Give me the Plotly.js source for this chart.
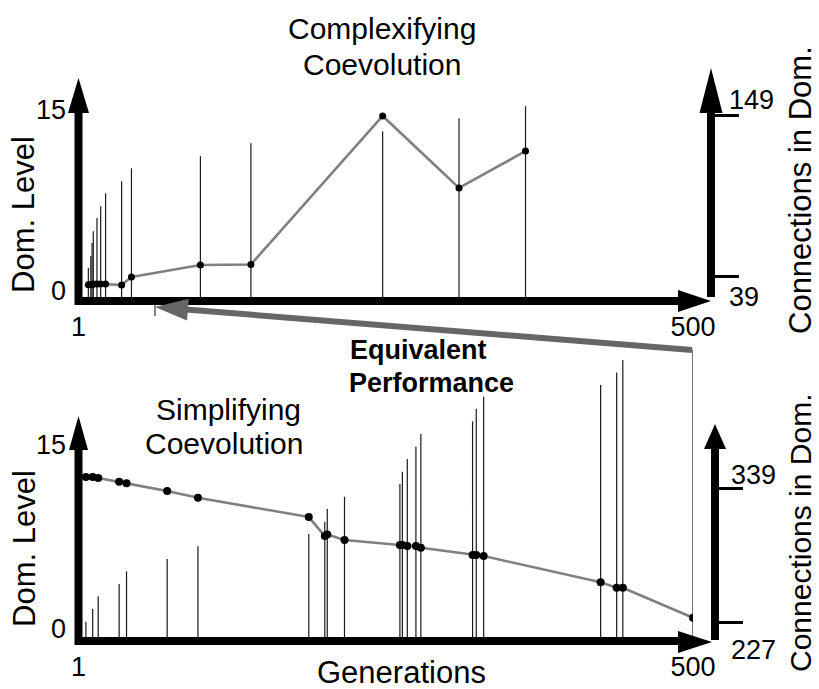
<!DOCTYPE html>
<html>
<head>
<meta charset="utf-8">
<script src="https://cdn.plot.ly/plotly-3.0.1.min.js"></script>
<style>html,body{margin:0;padding:0;background:#fff;}#chart{width:819px;height:689px;}</style>
</head>
<body>
<div id="chart"></div>
<script>
// ---------- DATA ----------
// Complexifying coevolution (top panel)
const topGenerations = [9, 11, 12, 13, 16, 19, 23, 36, 44, 100, 141, 248, 310, 364];
const topDomLevel    = [1.0, 1.0, 1.0, 1.05, 1.05, 1.05, 1.05, 0.98, 1.63, 2.61, 2.65, 14.76, 8.89, 11.9];
const topConnections = [44.9, 53.1, 61.9, 70.0, 78.9, 87.0, 95.8, 104.0, 112.8, 121.0, 129.8, 137.9, 146.8, 154.9];

// Simplifying coevolution (bottom panel)
const botGenerations = [7, 12.5, 17, 34, 40, 73, 98, 188, 201, 203, 217, 262, 264, 268, 275, 279, 321, 324, 330, 425, 438, 443, 500];
const botDomLevel    = [12.63, 12.63, 12.55, 12.26, 12.13, 11.52, 10.99, 9.47, 7.97, 8.09, 7.66, 7.26, 7.26, 7.18, 7.18, 7.05, 6.47, 6.47, 6.39, 4.32, 3.89, 3.89, 1.52];
const botConnections = [227.5, 238.1, 248.7, 259.0, 269.6, 279.9, 290.5, 300.8, 311.1, 321.7, 332.0, 342.6, 352.9, 363.5, 373.8, 384.4, 395.0, 405.5, 415.6, 425.4, 435.7, 446.3, 455];

// Tick labels
const genTickVals = [1, 500];
const genTickText = ['1', '500'];
const levelTickVals = [0, 15];
const levelTickText = ['0', '15'];
const topConnTickVals = [39, 149];
const topConnTickText = ['39', '149'];
const botConnTickVals = [227, 339];
const botConnTickText = ['227', '339'];

// ---------- GEOMETRY (pixels) ----------
const W = 819, H = 689;
const FONT = 'Liberation Sans, Arial, Helvetica, sans-serif';
const fx = x => x / W;
const fy = y => 1 - y / H;

const X_GEN1 = 78.5, X_GEN500 = 693;
// top panel
const T_BOT = 297, T_TOP = 64, T_L15 = 113;
const T_C39 = 276.7, T_C149 = 115;
// bottom panel
const B_BOT = 637, B_TOP = 345, B_L15 = 447;
const B_C227 = 622.3, B_C339 = 488.3;

function linRange(pxBot, pxTop, v1, p1, v2, p2) {
  const k = (v2 - v1) / (p1 - p2); // units per px (upwards)
  return [v1 - (pxBot - p1) * k, v1 + (p1 - pxTop) * k];
}
const topLevelRange = linRange(T_BOT, T_TOP, 0, T_BOT, 15, T_L15);
const topConnRange  = linRange(T_BOT, T_TOP, 39, T_C39, 149, T_C149);
const botLevelRange = linRange(B_BOT, B_TOP, 0, B_BOT, 15, B_L15);
const botConnRange  = linRange(B_BOT, B_TOP, 227, B_C227, 339, B_C339);

function stems(xs, ys, base) {
  const X = [], Y = [];
  xs.forEach((x, i) => { X.push(x, x, null); Y.push(base, ys[i], null); });
  return {X, Y};
}
const topStems = stems(topGenerations, topConnections, topConnRange[0]);
const botStems = stems(botGenerations, botConnections, botConnRange[0]);

const stemLine = {color: '#1a1a1a', width: 1.2};
const levelLine = {color: '#808080', width: 2.6};

const traces = [
  {x: topStems.X, y: topStems.Y, xaxis: 'x', yaxis: 'y', mode: 'lines', line: stemLine, hoverinfo: 'skip', showlegend: false},
  {x: topGenerations, y: topDomLevel, xaxis: 'x', yaxis: 'y2', mode: 'lines+markers', line: levelLine,
   marker: {color: '#000', size: 7}, showlegend: false},
  {x: botStems.X, y: botStems.Y, xaxis: 'x2', yaxis: 'y3', mode: 'lines', line: stemLine, hoverinfo: 'skip', showlegend: false},
  {x: botGenerations, y: botDomLevel, xaxis: 'x2', yaxis: 'y4', mode: 'lines+markers', line: levelLine,
   marker: {color: '#000', size: 8}, showlegend: false}
];

const tickFont = {family: FONT, size: 27, color: '#000'};
const xCommon = {
  domain: [fx(X_GEN1), fx(X_GEN500)], range: [1, 500], showgrid: false, zeroline: false, showline: false,
  ticks: '', tickvals: genTickVals, ticktext: genTickText, tickfont: tickFont, ticklabelstandoff: 11
};
const levelCommon = {
  side: 'left', showgrid: false, zeroline: false, showline: false, ticks: '',
  tickvals: levelTickVals, showticklabels: false
};
const connCommon = {
  side: 'right', anchor: 'free', showgrid: false, zeroline: false, showline: false,
  ticks: 'outside', ticklen: 27, tickwidth: 3, tickcolor: '#000', showticklabels: false
};

// decorative axes with arrowheads
const shapes = [];
function seg(x0, y0, x1, y1, w, c) {
  shapes.push({type: 'line', xref: 'paper', yref: 'paper', x0: fx(x0), y0: fy(y0), x1: fx(x1), y1: fy(y1),
    line: {color: c || '#000', width: w}, layer: 'above'});
}
function tri(pts, c) {
  const d = 'M' + pts.map(p => fx(p[0]) + ',' + fy(p[1])).join(' L') + ' Z';
  shapes.push({type: 'path', xref: 'paper', yref: 'paper', path: d, fillcolor: c || '#000', line: {width: 0}, layer: 'above'});
}
// top panel axes
seg(78.5, 305, 78.5, 108, 8);
tri([[78.5, 78], [68, 113], [89, 113]]);
seg(75, 301, 682, 301, 8);
tri([[711, 301], [678, 290], [678, 312]]);
seg(711, 297, 711, 108, 8);
tri([[711, 68], [699.5, 113], [722.5, 113]]);
// bottom panel axes
seg(78.5, 645, 78.5, 446, 8);
tri([[78.5, 416], [69, 450], [88, 450]]);
seg(75, 641, 682, 641, 8);
tri([[712, 642], [678, 631], [678, 653]]);
seg(715, 640, 715, 445, 8);
tri([[715, 424], [704, 449], [726, 449]]);
// equivalent performance arrow
seg(692, 350, 186, 309.5, 6, '#666');
tri([[155, 307], [188.8, 298.7], [187, 320.6]], '#666');
seg(155, 305, 155, 316, 1.2, '#333');

// annotations
const ann = [];
function txt(t, x, y, size, opts) {
  ann.push(Object.assign({text: t, xref: 'paper', yref: 'paper', x: fx(x), y: fy(y), xanchor: 'center', yanchor: 'middle',
    showarrow: false, font: {family: FONT, size: size, color: '#000'}}, opts || {}));
}
txt('Complexifying', 382, 28, 30);
txt('Coevolution', 382, 64, 30);
txt('Simplifying', 228, 409, 30);
txt('Coevolution', 224, 443, 30);
txt('<b>Equivalent</b>', 419, 350, 27);
txt('<b>Performance</b>', 431, 383, 27);
txt('Generations', 401, 672, 31);
txt('Dom. Level', 23, 215, 31, {textangle: -90});
txt('Dom. Level', 24, 549, 31, {textangle: -90});
txt('Connections in Dom.', 800, 190, 31, {textangle: -90});
txt('Connections in Dom.', 800, 533, 30, {textangle: -90});

// tick labels placed by the axis scales
function tickAnn(vals, texts, yref, xPx, anchor, shifts) {
  vals.forEach((v, i) => ann.push({text: texts[i], xref: 'paper', yref: yref, x: fx(xPx), y: v,
    xanchor: anchor, yanchor: 'middle', yshift: shifts[i], showarrow: false, font: tickFont}));
}
tickAnn(levelTickVals, levelTickText, 'y2', 68, 'right', [6, 3]);
tickAnn(levelTickVals, levelTickText, 'y4', 68, 'right', [8, 2]);
tickAnn(topConnTickVals, topConnTickText, 'y', 727, 'left', [-20, 15]);
tickAnn(botConnTickVals, botConnTickText, 'y3', 729, 'left', [-28, 13]);

const layout = {
  width: W, height: H, margin: {l: 0, r: 0, t: 0, b: 0}, paper_bgcolor: '#fff', plot_bgcolor: 'rgba(0,0,0,0)',
  font: {family: FONT, color: '#000'}, showlegend: false,
  xaxis: Object.assign({}, xCommon, {anchor: 'y'}),
  yaxis: Object.assign({}, connCommon, {domain: [fy(T_BOT), fy(T_TOP)], range: topConnRange, position: fx(711), tickvals: topConnTickVals}),
  yaxis2: Object.assign({}, levelCommon, {overlaying: 'y', anchor: 'x', range: topLevelRange}),
  xaxis2: Object.assign({}, xCommon, {anchor: 'y3'}),
  yaxis3: Object.assign({}, connCommon, {domain: [fy(B_BOT), fy(B_TOP)], range: botConnRange, position: fx(715), tickvals: botConnTickVals}),
  yaxis4: Object.assign({}, levelCommon, {overlaying: 'y3', anchor: 'x2', range: botLevelRange}),
  shapes: shapes,
  annotations: ann
};

Plotly.newPlot('chart', traces, layout, {displayModeBar: false, staticPlot: true});
</script>
</body>
</html>
